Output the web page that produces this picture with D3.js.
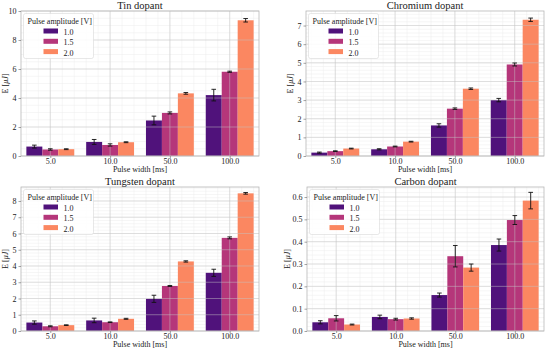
<!DOCTYPE html>
<meta charset="utf-8">
<title>Dopant energy</title>
<script src="https://d3js.org/d3.v7.min.js"></script>
<style>
body { margin: 0; background: #fff; }
</style>
<div id="chart"></div>
<script>
// categories
const widths = ["5.0", "10.0", "50.0", "100.0"];
const amps = ["1.0", "1.5", "2.0"];
const colors = ["#50127b", "#b5367a", "#fb8761"];

// means and errors, one row per amplitude, one value per pulse width
const tinMean = [[0.65, 0.97, 2.45, 4.20], [0.45, 0.76, 2.97, 5.81], [0.47, 0.95, 4.32, 9.36]];
const tinErr  = [[0.10, 0.17, 0.30, 0.40], [0.05, 0.08, 0.07, 0.04], [0.03, 0.03, 0.06, 0.12]];
const crMean  = [[0.18, 0.36, 1.64, 3.00], [0.26, 0.51, 2.54, 4.91], [0.40, 0.77, 3.61, 7.31]];
const crErr   = [[0.03, 0.03, 0.09, 0.09], [0.02, 0.02, 0.04, 0.08], [0.02, 0.02, 0.04, 0.09]];
const wMean   = [[0.52, 0.65, 1.98, 3.58], [0.29, 0.54, 2.77, 5.73], [0.36, 0.75, 4.28, 8.47]];
const wErr    = [[0.10, 0.14, 0.22, 0.22], [0.03, 0.02, 0.03, 0.06], [0.02, 0.03, 0.04, 0.05]];
const cMean   = [[0.039, 0.063, 0.161, 0.385], [0.057, 0.053, 0.335, 0.497], [0.029, 0.056, 0.284, 0.584]];
const cErr    = [[0.007, 0.008, 0.009, 0.027], [0.012, 0.004, 0.048, 0.020], [0.002, 0.003, 0.016, 0.037]];

const FONT = "'Liberation Serif', 'DejaVu Serif', serif";
const W = 550, H = 352;
const svg = d3.select("#chart").append("svg")
    .attr("width", W).attr("height", H)
    .style("font-family", FONT);

const panels = [
  {title: "Tin dopant", mean: tinMean, err: tinErr, x0: 21, x1: 259, y0: 11, y1: 156, yMax: 10, step: 2, minor: 4, fmt: d3.format("d"), ylx: 8},
  {title: "Chromium dopant", mean: crMean, err: crErr, x0: 306, x1: 544, y0: 11, y1: 156, yMax: 7.78, step: 1, minor: 5, fmt: d3.format("d"), ylx: 293},
  {title: "Tungsten dopant", mean: wMean, err: wErr, x0: 21, x1: 259, y0: 187, y1: 331, yMax: 8.86, step: 1, minor: 5, fmt: d3.format("d"), ylx: 8},
  {title: "Carbon dopant", mean: cMean, err: cErr, x0: 307, x1: 544, y0: 187, y1: 331, yMax: 0.645, step: 0.1, minor: 5, fmt: d3.format(".1f"), ylx: 290}
];

function drawPanel(p) {
  const x = d3.scaleLinear().domain([-0.49, widths.length - 0.51]).range([p.x0, p.x1]);
  const y = d3.scaleLinear().domain([0, p.yMax]).range([p.y1, p.y0]);
  const bw = 0.8 / amps.length;
  const g = svg.append("g");

  // minor grid under the bars
  const nMaj = Math.floor(p.yMax / p.step + 1e-9);
  const yMinor = d3.range(0, p.yMax, p.step / p.minor);
  const xMinor = d3.range(-0.4, widths.length - 0.5, 0.2);
  g.append("g").selectAll("line").data(yMinor).join("line")
    .attr("x1", p.x0).attr("x2", p.x1)
    .attr("y1", d => y(d)).attr("y2", d => y(d))
    .attr("stroke", "#ececec").attr("stroke-width", 0.5);
  g.append("g").selectAll("line").data(xMinor).join("line")
    .attr("x1", d => x(d)).attr("x2", d => x(d))
    .attr("y1", p.y0).attr("y2", p.y1)
    .attr("stroke", "#ececec").attr("stroke-width", 0.5);

  // bars
  amps.forEach((a, i) => {
    g.append("g").selectAll("rect")
      .data(p.mean[i])
      .join("rect")
      .attr("x", (d, j) => x(j - 0.4 + i * bw))
      .attr("width", x(bw) - x(0))
      .attr("y", d => y(d))
      .attr("height", d => y(0) - y(d))
      .attr("fill", colors[i]);
  });

  // major grid over the bars, faint
  const yTicks = d3.range(0, nMaj + 1).map(k => k * p.step);
  g.append("g").selectAll("line").data(yTicks).join("line")
    .attr("x1", p.x0).attr("x2", p.x1)
    .attr("y1", d => y(d)).attr("y2", d => y(d))
    .attr("stroke", "#c4c4c4").attr("stroke-width", 0.8).attr("opacity", 0.6);
  g.append("g").selectAll("line").data(widths).join("line")
    .attr("x1", (d, j) => x(j)).attr("x2", (d, j) => x(j))
    .attr("y1", p.y0).attr("y2", p.y1)
    .attr("stroke", "#c4c4c4").attr("stroke-width", 0.8).attr("opacity", 0.6);

  // error bars
  amps.forEach((a, i) => {
    const eg = g.append("g").attr("stroke", "#111").attr("stroke-width", 0.9);
    p.mean[i].forEach((m, j) => {
      const cx = x(j - 0.4 + (i + 0.5) * bw);
      const e = p.err[i][j];
      eg.append("line").attr("x1", cx).attr("x2", cx).attr("y1", y(m - e)).attr("y2", y(m + e));
      eg.append("line").attr("x1", cx - 2.3).attr("x2", cx + 2.3).attr("y1", y(m - e)).attr("y2", y(m - e));
      eg.append("line").attr("x1", cx - 2.3).attr("x2", cx + 2.3).attr("y1", y(m + e)).attr("y2", y(m + e));
    });
  });

  // frame
  g.append("rect")
    .attr("x", p.x0).attr("y", p.y0)
    .attr("width", p.x1 - p.x0).attr("height", p.y1 - p.y0)
    .attr("fill", "none").attr("stroke", "#b8b8b8").attr("stroke-width", 0.8);

  // axes
  const yAxis = d3.axisLeft(y).tickValues(yTicks).tickFormat(p.fmt).tickSize(2.5).tickPadding(2);
  const ya = g.append("g").attr("transform", `translate(${p.x0},0)`).call(yAxis);
  const xAxis = d3.axisBottom(x).tickValues(d3.range(widths.length))
      .tickFormat(j => widths[j]).tickSize(2).tickPadding(0.8);
  const xa = g.append("g").attr("transform", `translate(0,${p.y1})`).call(xAxis);
  [ya, xa].forEach(a => {
    a.attr("font-family", FONT);
    a.select(".domain").remove();
    a.selectAll(".tick line").attr("stroke", "#666").attr("stroke-width", 0.6);
    a.selectAll(".tick text").style("font-size", "8px").attr("fill", "#222");
  });

  // titles and labels
  g.append("text")
    .attr("x", (p.x0 + p.x1) / 2).attr("y", p.y0 - 2)
    .attr("text-anchor", "middle").style("font-size", "10.5px").attr("fill", "#222")
    .text(p.title);
  g.append("text")
    .attr("x", (p.x0 + p.x1) / 2).attr("y", p.y1 + 15.5)
    .attr("text-anchor", "middle").style("font-size", "8px").attr("fill", "#222")
    .text("Pulse width [ms]");
  const yl = g.append("text")
    .attr("transform", `translate(${p.ylx},${(p.y0 + p.y1) / 2}) rotate(-90)`)
    .attr("text-anchor", "middle").style("font-size", "8px").attr("fill", "#222");
  yl.append("tspan").text("E [");
  yl.append("tspan").style("font-style", "italic").text("μJ");
  yl.append("tspan").text("]");

  // legend
  const lx = p.x0 + 2.5, ly = p.y0 + 2.5;
  const lg = g.append("g").attr("transform", `translate(${lx},${ly})`);
  lg.append("rect").attr("width", 70).attr("height", 45).attr("rx", 2)
    .attr("fill", "#fff").attr("fill-opacity", 0.85)
    .attr("stroke", "#d8d8d8").attr("stroke-width", 0.6);
  lg.append("text").attr("x", 4).attr("y", 10).style("font-size", "8px").attr("fill", "#222")
    .text("Pulse amplitude [V]");
  amps.forEach((a, i) => {
    lg.append("rect").attr("x", 20).attr("y", 15 + i * 10.3).attr("width", 14.5).attr("height", 5)
      .attr("fill", colors[i]);
    lg.append("text").attr("x", 40).attr("y", 21.5 + i * 10.3).style("font-size", "8px")
      .attr("fill", "#222").text(a);
  });
}

panels.forEach(drawPanel);
svg.selectAll("text").style("font-family", FONT);
</script>
